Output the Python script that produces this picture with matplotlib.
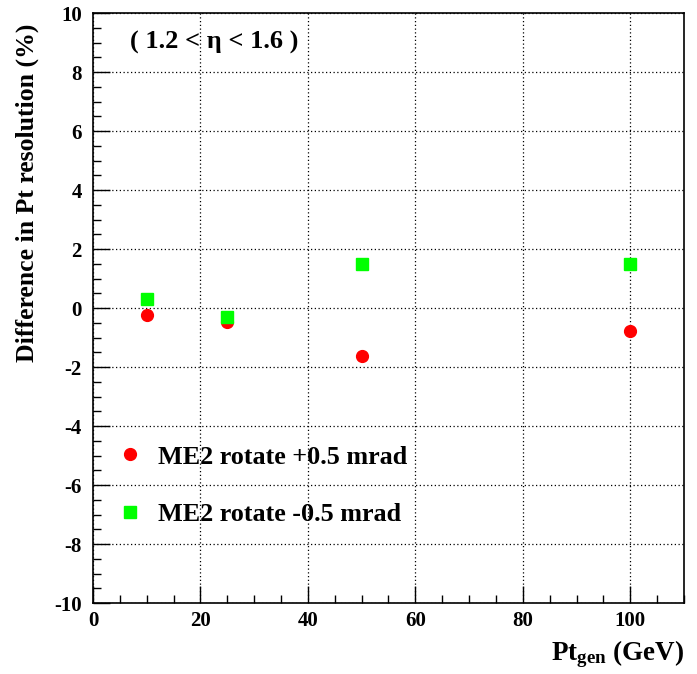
import matplotlib
matplotlib.use("Agg")
import matplotlib.pyplot as plt
from matplotlib.ticker import MultipleLocator

matplotlib.rcParams.update({"font.family": "Liberation Serif", "font.weight": "bold",
                            "axes.unicode_minus": False,
                            "mathtext.fontset": "custom", "mathtext.rm": "Liberation Serif:bold",
                            "mathtext.it": "Liberation Serif:bold", "mathtext.bf": "Liberation Serif:bold"})

pt_gen = [10, 25, 50, 100]
diff_plus = [-0.24, -0.47, -1.63, -0.78]
diff_minus = [0.32, -0.30, 1.49, 1.49]
label_plus = "ME2 rotate +0.5 mrad"
label_minus = "ME2 rotate -0.5 mrad"

fig = plt.figure(figsize=(6.97, 6.74), dpi=100)
ax = fig.add_axes([0.1334, 0.1053, 0.8479, 0.8754])

ax.plot(pt_gen, diff_plus, "o", color="#ff0000", markersize=8.5, label=label_plus, linestyle="none")
ax.plot(pt_gen, diff_minus, "s", color="#00ff00", markersize=8, label=label_minus, linestyle="none")

ax.set_xlim(0, 110)
ax.set_ylim(-10, 10)
ax.xaxis.set_major_locator(MultipleLocator(20))
ax.xaxis.set_minor_locator(MultipleLocator(5))
ax.yaxis.set_major_locator(MultipleLocator(2))
ax.yaxis.set_minor_locator(MultipleLocator(0.5))
ax.tick_params(which="both", direction="in", top=False, right=False, labelsize=15)
ax.tick_params(which="major", length=12, width=1)
ax.tick_params(which="minor", length=6, width=1)
ax.tick_params(axis="y", pad=8)
ax.tick_params(axis="x", pad=6)
ax.grid(True, which="major", linestyle=(0, (1, 2)), color="black", linewidth=0.9)
for s in ax.spines.values():
    s.set_linewidth(1.2)

ax.set_ylabel("Difference in Pt resolution (%)", fontsize=18.5, fontweight="bold")
ax.yaxis.set_label_coords(-0.092, 0.695)
ax.set_xlabel("Pt$_{\\mathregular{gen}}$ (GeV)", fontsize=19.5, fontweight="bold")
ax.xaxis.set_label_coords(1.0, -0.06)
ax.xaxis.label.set_horizontalalignment("right")

ax.text(0.062, 0.95, "( 1.2 < \u03b7 < 1.6 )", transform=ax.transAxes, fontsize=19,
        fontweight="bold", va="center", ha="left")

ax.legend(loc="upper left", bbox_to_anchor=(-0.01, 0.285), frameon=False, fontsize=18.8,
          labelspacing=1.3, handletextpad=-0.2, borderaxespad=0.0, handlelength=2.5,
          markerscale=1.0)

fig.savefig("out.png", dpi=100)
